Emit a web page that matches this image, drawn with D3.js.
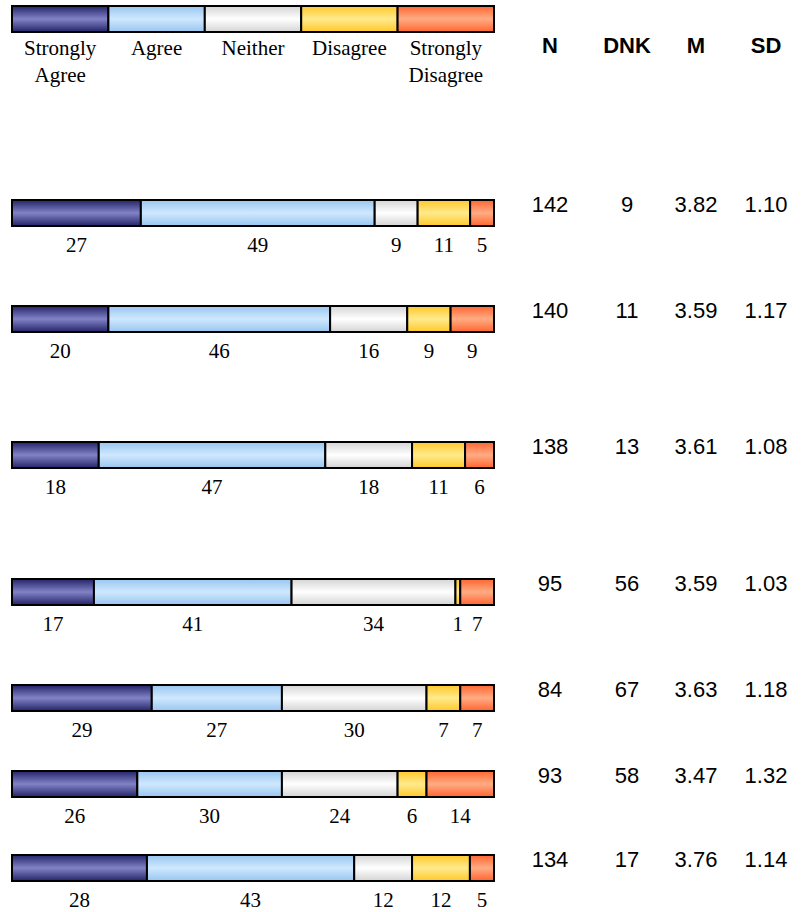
<!DOCTYPE html>
<html><head><meta charset="utf-8">
<script src="https://cdn.jsdelivr.net/npm/d3@7/dist/d3.min.js"></script>
<style>body{margin:0;background:#fff}svg{display:block}</style>
</head><body>
<script>
// ---- data ----
const categories = ["Strongly Agree", "Agree", "Neither", "Disagree", "Strongly Disagree"];
const legendLines = [["Strongly", "Agree"], ["Agree"], ["Neither"], ["Disagree"], ["Strongly", "Disagree"]];
const stronglyAgree    = [27, 20, 18, 17, 29, 26, 28];
const agree            = [49, 46, 47, 41, 27, 30, 43];
const neither          = [9, 16, 18, 34, 30, 24, 12];
const disagree         = [11, 9, 11, 1, 7, 6, 12];
const stronglyDisagree = [5, 9, 6, 7, 7, 14, 5];
const statHeaders = ["N", "DNK", "M", "SD"];
const nValues   = [142, 140, 138, 95, 84, 93, 134];
const dnkValues = [9, 11, 13, 56, 67, 58, 17];
const mValues   = ["3.82", "3.59", "3.61", "3.59", "3.63", "3.47", "3.76"];
const sdValues  = ["1.10", "1.17", "1.08", "1.03", "1.18", "1.32", "1.14"];

// ---- layout ----
const W = 801, H = 912;
const barLeft = 12, barRight = 494, barH = 26;
const rowTops = [200, 306, 442, 579, 685, 771, 855];
const statX = [550, 627, 696, 766];
const gradStops = [
  ["#232368", "#8282c6"],
  ["#98c6ef", "#cfe8ff"],
  ["#d4d4d4", "#ffffff"],
  ["#ffc82a", "#ffea8c"],
  ["#ff6530", "#ffac84"]
];

const svg = d3.select("body").append("svg").attr("width", W).attr("height", H);
const defs = svg.append("defs");
gradStops.forEach((g, i) => {
  const lg = defs.append("linearGradient").attr("id", "g" + i)
    .attr("x1", 0).attr("y1", 0).attr("x2", 0).attr("y2", 1);
  lg.append("stop").attr("offset", "0%").attr("stop-color", g[0]);
  lg.append("stop").attr("offset", "50%").attr("stop-color", g[1]);
  lg.append("stop").attr("offset", "100%").attr("stop-color", g[0]);
});

// legend
const lx = d3.scaleBand().domain(categories).range([barLeft, barRight]).padding(0);
const leg = svg.append("g");
leg.selectAll("rect").data(categories).join("rect")
  .attr("x", d => lx(d)).attr("y", 6).attr("width", lx.bandwidth()).attr("height", barH)
  .attr("fill", (d, i) => `url(#g${i})`).attr("stroke", "#000").attr("stroke-width", 2);
leg.selectAll("text").data(categories).join("text")
  .attr("x", d => lx(d) + lx.bandwidth() / 2).attr("y", 55)
  .attr("text-anchor", "middle")
  .style("font-family", "'Liberation Serif','Times New Roman',serif").style("font-size", "21px")
  .each(function (d, i) {
    const t = d3.select(this);
    legendLines[i].forEach((ln, j) => {
      t.append("tspan").attr("x", lx(d) + lx.bandwidth() / 2).attr("dy", j ? 27 : 0).text(ln);
    });
  });

// headers
svg.selectAll("text.hdr").data(statHeaders).join("text").attr("class", "hdr")
  .attr("x", (d, i) => statX[i]).attr("y", 53).attr("text-anchor", "middle")
  .style("font-family", "'Liberation Sans',Arial,sans-serif").style("font-size", "22px")
  .style("font-weight", "bold").text(d => d);

// rows
const series = [stronglyAgree, agree, neither, disagree, stronglyDisagree];
const rows = nValues.map((n, r) => {
  const vals = series.map(s => s[r]);
  const total = d3.sum(vals);
  const x = d3.scaleLinear().domain([0, total]).range([barLeft, barRight]);
  let cum = 0;
  const segs = vals.map((v, i) => { const s = { i, v, x0: x(cum), x1: x(cum + v) }; cum += v; return s; });
  return { r, segs, stats: [nValues[r], dnkValues[r], mValues[r], sdValues[r]] };
});

const rg = svg.selectAll("g.row").data(rows).join("g").attr("class", "row")
  .attr("transform", d => `translate(0,${rowTops[d.r]})`);
rg.selectAll("rect").data(d => d.segs).join("rect")
  .attr("x", d => d.x0).attr("y", 0).attr("width", d => d.x1 - d.x0).attr("height", barH)
  .attr("fill", d => `url(#g${d.i})`).attr("stroke", "#000").attr("stroke-width", 2);
rg.selectAll("text.val").data(d => d.segs).join("text").attr("class", "val")
  .attr("x", d => (d.x0 + d.x1) / 2).attr("y", 52).attr("text-anchor", "middle")
  .style("font-family", "'Liberation Serif','Times New Roman',serif").style("font-size", "21px")
  .text(d => d.v);
rg.selectAll("text.stat").data(d => d.stats).join("text").attr("class", "stat")
  .attr("x", (d, i) => statX[i]).attr("y", 12).attr("text-anchor", "middle")
  .style("font-family", "'Liberation Sans',Arial,sans-serif").style("font-size", "22px")
  .text(d => d);
</script>
</body></html>
